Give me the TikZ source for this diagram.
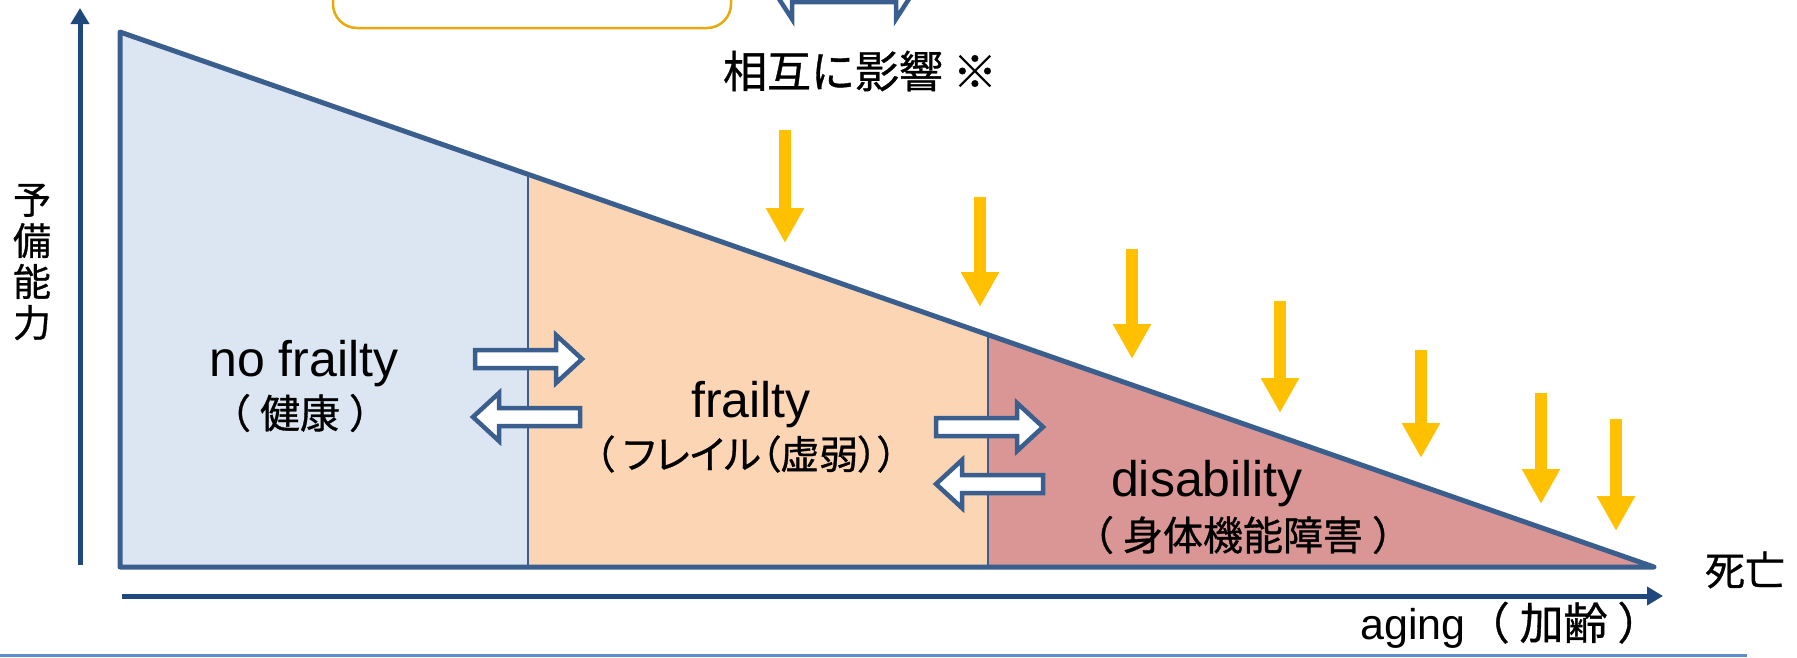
\documentclass[tikz,border=0pt]{standalone}
\usepackage{fontspec}
\setmainfont{Liberation Sans}
\newfontfamily\jp[FakeBold=0.8]{Noto Sans CJK JP}
\newfontfamily\jpp[RawFeature=+palt, FakeBold=0.8]{Noto Sans CJK JP}
\usetikzlibrary{arrows.meta, calc}

\definecolor{edgeblue}{HTML}{3A5F8F}
\definecolor{axisblue}{HTML}{1F497D}
\definecolor{healthy}{HTML}{DCE6F2}
\definecolor{frail}{HTML}{FCD5B5}
\definecolor{disabled}{HTML}{D99694}
\definecolor{impact}{HTML}{FFC000}
\definecolor{boxgold}{HTML}{E8A90C}
\definecolor{rulecol}{HTML}{5B8FCB}

\tikzset{
    ageaxis/.style={axisblue, line width=5pt, -{Triangle[width=18pt,length=16pt]}},
    hit/.style={impact, line width=12pt, -{Triangle[width=36pt,length=35pt]}},
    stage/.style={font=\fontsize{50}{54}\selectfont},
    stagejp/.style={font=\jp\fontsize{40}{44}\selectfont},
    shiftarrow/.pic={
        \draw[edgeblue, fill=white, line width=4.5pt, line join=miter]
            (0,-9) -- (81,-9) -- (81,-24) -- (107,0) -- (81,24) -- (81,9) -- (0,9) -- cycle;
    }
}

\begin{document}
\begin{tikzpicture}[x=1pt, y=-1pt]
    \useasboundingbox (0,0) rectangle (1797,657);
    \clip (0,0) rectangle (1797,657);

    % reserve triangle
    \coordinate (top)   at (120,32);
    \coordinate (base)  at (120,567);
    \coordinate (death) at (1654,567);
    \coordinate (cut1)  at ($(top)!0.266!(death)$);
    \coordinate (cut2)  at ($(top)!0.566!(death)$);

    \fill[healthy]  (top) -- (cut1) -- (cut1 |- base) -- (base) -- cycle;
    \fill[frail]    (cut1) -- (cut2) -- (cut2 |- base) -- (cut1 |- base) -- cycle;
    \fill[disabled] (cut2) -- (death) -- (cut2 |- base) -- cycle;
    \draw[edgeblue, line width=2pt] (cut1) -- (cut1 |- base) (cut2) -- (cut2 |- base);
    \draw[edgeblue, line width=5pt, line join=round] (top) -- (death) -- (base) -- cycle;

    % axes
    \draw[ageaxis] (80,565) -- (80,8);
    \draw[ageaxis] (122,596) -- (1663,596);
    \node[font=\jp\fontsize{38}{41}\selectfont, align=center] (reserve) at (32,262) {予\\備\\能\\力};
    \node[font=\jp\fontsize{40}{44}\selectfont] (deathlabel) at (1745,570) {死亡};
    \node[font=\fontsize{43}{46}\selectfont] (aging) at (1511,625) {aging{\jp\fontsize{44}{46}\selectfont（ 加齢 ）}};

    % stages
    \node[stage]   (nofrailty)  at (304,364)  {no frailty};
    \node[stagejp] (healthy)    at (300,413)  {（ 健康 ）};
    \node[stage]   (frailty)    at (751,405)  {frailty};
    \node[stagejp, font=\jpp\fontsize{39}{42}\selectfont] (frailjp) at (746,454) {（ フレイル（虚弱））};
    \node[stage]   (disability) at (1207,484) {disability};
    \node[stagejp] (disabledjp) at (1243,535) {（ 身体機能障害 ）};

    % transitions
    \pic at (475,359) {shiftarrow};
    \pic[xscale=-1] at (580,417) {shiftarrow};
    \pic at (936,427) {shiftarrow};
    \pic[xscale=-1] at (1043,484) {shiftarrow};

    % outside influences
    \draw[hit] (785,130) -- (785,243);
    \draw[hit] (980,197) -- (980,307);
    \draw[hit] (1132,249) -- (1132,359);
    \draw[hit] (1280,301) -- (1280,413);
    \draw[hit] (1421,350) -- (1421,458);
    \draw[hit] (1541,393) -- (1541,504);
    \draw[hit] (1616,419) -- (1616,531);

    % top, cut off
    \draw[boxgold, line width=2.5pt, rounded corners=24pt] (333,-50) rectangle (731,28);
    \draw[edgeblue, fill=white, line width=4.5pt]
        (770,-15) -- (792,-49) -- (792,-32) -- (896,-32) -- (896,-49) -- (918,-15)
        -- (896,19) -- (896,2) -- (792,2) -- (792,19) -- cycle;
    \node[font=\jp\fontsize{44}{46}\selectfont] (mutual) at (860,71) {相互に影響 ※};

    % bottom rule
    \draw[rulecol, line width=3pt] (0,655) -- (1747,655);
\end{tikzpicture}
\end{document}
